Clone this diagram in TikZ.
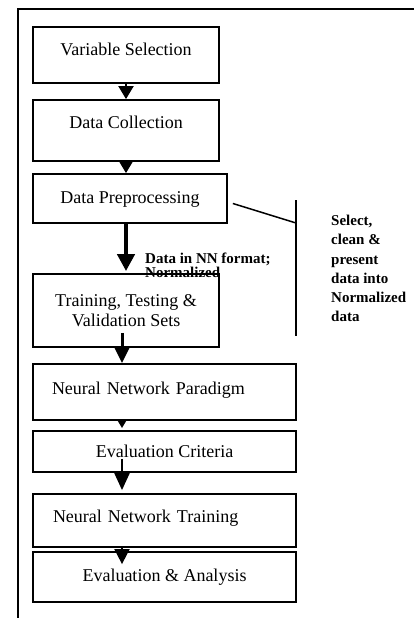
\documentclass[tikz,border=0pt]{standalone}
\usepackage{fontspec}
\setmainfont{Liberation Serif}
\usetikzlibrary{arrows.meta}
\newcommand\tightlines{\lineskiplimit=-20pt\relax}

\begin{document}
\begin{tikzpicture}[x=1pt, y=-1pt,
    boxframe/.style={draw, line width=1.8pt, fill=white, inner sep=0pt,
      font=\fontsize{18}{20}\selectfont},
    box/.style={boxframe, text height=13pt, text depth=#1},
    box/.default=4pt,
    flow/.style={line width=2pt, -{Triangle[width=15pt,length=13pt]}},
    note/.style={inner sep=0pt, align=left, font=\bfseries\fontsize{15}{19.2}\selectfont}]
  \useasboundingbox (0,0) rectangle (414,618);

  % Outer frame
  \draw[line width=2pt] (18,618) -- (18,9) -- (414,9);

  % Steps
  \node[box=11pt, minimum width=186pt, minimum height=56pt] (varsel) at (126,55) {Variable Selection};
  \node[box=17pt, minimum width=186pt, minimum height=61pt] (datacol) at (126,130.5) {Data Collection};
  \node[box, minimum width=194pt, minimum height=49pt] (preproc) at (130,198.5) {Data Preprocessing};
  \node[boxframe, align=center, minimum width=186pt, minimum height=73pt] (trainsets) at (126,310.5) {Training, Testing \&\\Validation Sets};
  \node[box=9pt, minimum width=263pt, minimum height=56pt, text width=225pt, inner xsep=19pt, align=left] (paradigm) at (164.5,392) {Neural Network Paradigm};
  \node[box=1pt, minimum width=263pt, minimum height=41pt] (evalcrit) at (164.5,451.5) {Evaluation Criteria};
  \node[box=10pt, minimum width=263pt, minimum height=53pt, text width=223pt, inner xsep=20pt, align=left] (nntrain) at (164.5,520.5) {Neural Network Training};
  \node[box, minimum width=263pt, minimum height=50pt] (evalana) at (164.5,577) {Evaluation \& Analysis};

  % Arrows between the steps
  \coordinate (spine) at (122,0);
  \draw[flow] (varsel) -- (datacol);
  \draw[flow] (datacol.south) -- (datacol.south |- preproc.north);
  \draw[line width=4.5pt, -{Triangle[width=17pt,length=17pt]}, shorten >=2pt] (trainsets.north |- preproc.south) -- (trainsets.north);
  \draw[flow, line width=3pt, -{Triangle[width=15pt,length=16pt]}] ([yshift=15pt]trainsets.south -| spine) -- (paradigm.north -| spine);
  \draw[flow, -{Triangle[width=10pt,length=9pt]}, shorten >=2pt] (paradigm.south -| spine) -- (evalcrit.north -| spine);
  \draw[flow, -{Triangle[width=15pt,length=17pt]}, shorten >=3pt] ([yshift=14pt]evalcrit.south -| spine) -- (nntrain.north -| spine);
  \draw[flow, -{Triangle[width=15pt,length=15pt]}] (nntrain.south -| spine) -- ([yshift=-13pt]evalana.north -| spine);

  % Labels
  \node[note, anchor=north west, font=\bfseries\fontsize{15}{14}\selectfont\tightlines] (fmtnote) at (145,253) {Data in NN format;\\Normalized};

  % Bracket with its note
  \coordinate (brtop) at (296,200);
  \coordinate (brmid) at (296,223);
  \coordinate (brbot) at (296,336);
  \draw[line width=1.5pt] (brtop) -- (brbot);
  \draw[line width=1.5pt] ([xshift=5pt,yshift=-5pt]preproc.east) -- (brmid);
  \node[note, anchor=north west] (selnote) at (331,215) {Select,\\clean \&\\present\\data into\\Normalized\\data};
\end{tikzpicture}
\end{document}
